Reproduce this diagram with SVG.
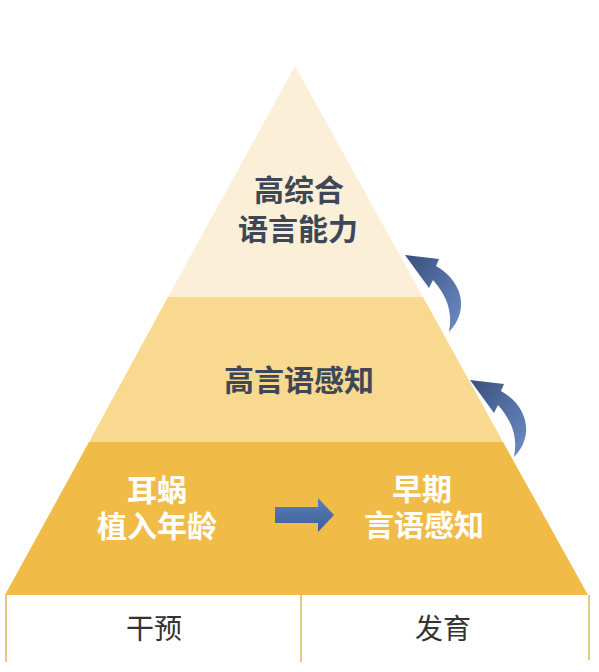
<svg xmlns="http://www.w3.org/2000/svg" width="599" height="672" viewBox="0 0 599 672">
<defs>
<style>
.t{font-family:"Liberation Sans","Noto Sans CJK SC",sans-serif;font-weight:bold;font-size:30px;text-anchor:middle}
.dark{fill:#3E4757}
.light{fill:#FFFFFF}
.lbl{font-family:"Liberation Sans","Noto Sans CJK SC",sans-serif;font-size:28px;text-anchor:middle;fill:#333333}
.div{stroke:#E9C77C;stroke-width:2;fill:none}
</style>
<linearGradient id="cg" x1="0" y1="0" x2="1" y2="1">
<stop offset="0" stop-color="#394F7C"/>
<stop offset="1" stop-color="#6B8DC6"/>
</linearGradient>
<linearGradient id="sg" x1="0" y1="0" x2="0" y2="1">
<stop offset="0" stop-color="#5A7EB8"/>
<stop offset="1" stop-color="#3E5F98"/>
</linearGradient>
<path id="curve" d="M405,255 L439,259 L436,266 C461,280 471,309 449,332 C453,312 447,296 433,280 L429,288 Z"/>
</defs>
<rect width="599" height="672" fill="#FFFFFF"/>
<g id="tier-top">
<polygon points="295,66 423,297 168,297" fill="#FCEFD7"/>
<text class="t dark" x="299" y="201"><tspan x="299">高综合</tspan><tspan x="298" dy="39">语言能力</tspan></text>
</g>
<g id="tier-mid">
<polygon points="168,297 423,297 503,442 89,442" fill="#F8D98F"/>
<text class="t dark" x="299" y="391">高言语感知</text>
</g>
<g id="tier-bottom">
<polygon points="89,442 503,442 588,595 5,595" fill="#F0BC47"/>
<text class="t light" x="157" y="501"><tspan x="157">耳蜗</tspan><tspan x="157" dy="36">植入年龄</tspan></text>
<text class="t light" x="422" y="500"><tspan x="422">早期</tspan><tspan x="424" dy="36">言语感知</tspan></text>
</g>
<g id="base-labels">
<line class="div" x1="6" y1="595" x2="6" y2="662"/>
<line class="div" x1="301" y1="595" x2="301" y2="662"/>
<line class="div" x1="589" y1="595" x2="589" y2="660"/>
<text class="lbl" x="154" y="639">干预</text>
<text class="lbl" x="443" y="639">发育</text>
</g>
<g id="connectors">
<use href="#curve" fill="url(#cg)"/>
<use href="#curve" fill="url(#cg)" transform="translate(65,125)"/>
<polygon points="275,507 318,507 318,498 334,515 318,532 318,523 275,523" fill="url(#sg)"/>
</g>
</svg>
